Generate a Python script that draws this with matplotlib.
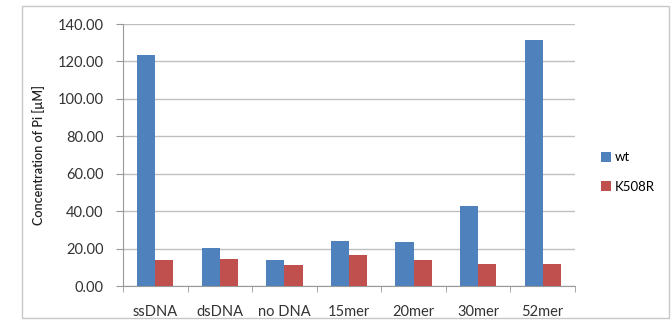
import matplotlib
matplotlib.use("Agg")
import matplotlib.pyplot as plt
import numpy as np
from matplotlib.patches import Rectangle

categories = ["ssDNA", "dsDNA", "no DNA", "15mer", "20mer", "30mer", "52mer"]
wt = [123.5, 20.5, 13.9, 24.2, 23.3, 42.9, 131.6]
k508r = [13.9, 14.4, 11.2, 16.6, 13.9, 11.8, 11.8]
yticks = [0, 20, 40, 60, 80, 100, 120, 140]

plt.rcParams["font.family"] = ["Lato", "DejaVu Sans"]

fig = plt.figure(figsize=(6.71, 3.24), dpi=100)
fig.patches.append(Rectangle((22 / 671, 1 - 318 / 324), 647 / 671, 312 / 324,
                             transform=fig.transFigure, fill=False,
                             edgecolor="#c8c8c8", linewidth=1))
ax = fig.add_axes([123 / 671, 1 - 286 / 324, 452 / 671, 262 / 324])

x = np.arange(len(categories))
w = 0.28
ax.bar(x - w / 2, wt, w, color="#4F81BD", label="wt", zorder=3)
ax.bar(x + w / 2, k508r, w, color="#C0504D", label="K508R", zorder=3)

ax.set_xlim(-0.5, len(categories) - 0.5)
ax.set_ylim(0, 140)
ax.set_yticks(yticks)
ax.set_yticklabels([f"{v:.2f}" for v in yticks], fontsize=10.5, color="#333333")
ax.set_xticks(x)
ax.set_xticklabels(categories, fontsize=10.5, color="#333333")
ax.set_xticks(np.arange(len(categories) + 1) - 0.5, minor=True)
ax.tick_params(axis="x", which="major", length=0, pad=14)
ax.tick_params(axis="x", which="minor", length=4, color="#999999", direction="out")
ax.tick_params(axis="y", length=5, color="#999999", direction="out", pad=9)
ax.grid(axis="y", color="#bfbfbf", linewidth=1, zorder=0)
for s in ["top", "right"]:
    ax.spines[s].set_visible(False)
for s in ["left", "bottom"]:
    ax.spines[s].set_color("#999999")
ax.set_ylabel("Concentration of Pi [µM]", fontsize=9, fontweight="semibold",
              color="#222222", labelpad=9)

ax.legend(loc="center left", bbox_to_anchor=(1.045, 0.435), frameon=False,
          fontsize=9.5, handlelength=0.8, handleheight=0.8, labelspacing=1.3,
          handletextpad=0.3, borderaxespad=0)

fig.savefig("out.png", dpi=100)
